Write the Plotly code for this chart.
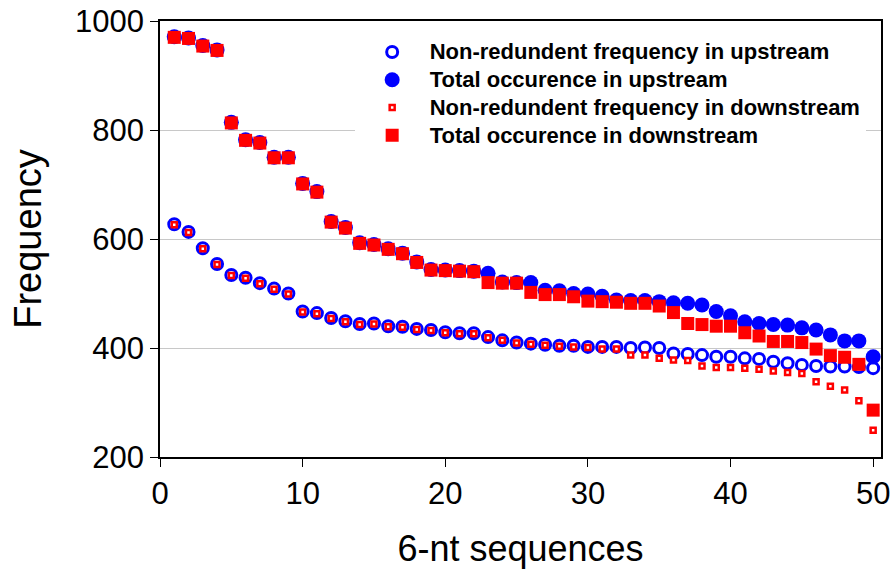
import plotly.graph_objects as go

x_idx = list(range(1, 51))

up_nonredundant = [627, 613, 583, 554, 534, 529, 519, 509, 500, 467,
                   464, 455, 449, 444, 445, 440, 439, 435, 433, 429,
                   427, 427, 420, 414, 410, 408, 406, 404, 404, 402,
                   402, 402, 400, 401, 400, 390, 389, 387, 384, 384,
                   381, 380, 375, 372, 369, 367, 366, 366, 365, 363]

up_total = [971, 969, 955, 947, 814, 782, 777, 750, 750, 702,
            687, 632, 621, 593, 590, 582, 574, 558, 544, 543,
            542, 541, 537, 521, 520, 520, 506, 505, 500, 499,
            495, 488, 487, 487, 485, 483, 482, 479, 467, 459,
            448, 445, 443, 442, 437, 433, 424, 413, 413, 384]

down_nonredundant = [626, 612, 582, 553, 533, 528, 518, 508, 499, 466,
                     463, 454, 448, 443, 444, 439, 438, 434, 432, 428,
                     426, 426, 419, 414, 409, 407, 405, 403, 402, 401,
                     398, 398, 387, 387, 381, 378, 377, 367, 364, 364,
                     363, 361, 358, 355, 353, 338, 330, 323, 303, 249]

down_total = [970, 968, 954, 946, 813, 781, 776, 749, 749, 701,
              686, 631, 620, 592, 589, 581, 573, 557, 543, 542,
              541, 540, 520, 519, 519, 502, 498, 498, 494, 486,
              485, 484, 482, 482, 477, 465, 445, 443, 440, 440,
              428, 422, 412, 412, 410, 398, 386, 383, 370, 286]

names = ["Non-redundent frequency in upstream",
         "Total occurence in upstream",
         "Non-redundent frequency in downstream",
         "Total occurence in downstream"]

BLUE = "#0000ff"
RED = "#ff0000"
FONT = "Arial, Liberation Sans, sans-serif"


def legend_label(s):
    return '<span style="font-size:22px">' + s + '</span>'


fig = go.Figure()
fig.add_trace(go.Scatter(x=x_idx, y=up_nonredundant, mode="markers", name=legend_label(names[0]),
                         marker=dict(symbol="circle", size=11, color="white",
                                     line=dict(color=BLUE, width=3))))
fig.add_trace(go.Scatter(x=x_idx, y=up_total, mode="markers", name=legend_label(names[1]),
                         marker=dict(symbol="circle", size=15, color=BLUE,
                                     line=dict(width=0))))
fig.add_trace(go.Scatter(x=x_idx, y=down_nonredundant, mode="markers", name=legend_label(names[2]),
                         marker=dict(symbol="square", size=5, color="white",
                                     line=dict(color=RED, width=2.5))))
fig.add_trace(go.Scatter(x=x_idx, y=down_total, mode="markers", name=legend_label(names[3]),
                         marker=dict(symbol="square", size=13, color=RED,
                                     line=dict(width=0))))

fig.update_layout(
    width=891, height=574,
    margin=dict(l=160, r=10, t=21, b=117),
    paper_bgcolor="white", plot_bgcolor="white",
    font=dict(family=FONT, color="black"),
    legend=dict(x=0.27, y=0.972, xanchor="left", yanchor="top",
                bgcolor="white", borderwidth=0,
                font=dict(family=FONT, size=19, color="black", weight="bold"),
                itemwidth=65, tracegroupgap=0),
    showlegend=True,
)
fig.update_xaxes(range=[0, 50.55], tickvals=[0, 10, 20, 30, 40, 50],
                 showgrid=False, zeroline=False, automargin=False,
                 showline=True, linecolor="black", linewidth=1.5, mirror=True,
                 ticks="outside", ticklen=8, tickcolor="black", tickwidth=1,
                 tickfont=dict(size=31, family=FONT),
                 title=dict(text="6-nt sequences", font=dict(size=36, family=FONT), standoff=26))
fig.update_yaxes(range=[200, 1000], tickvals=[200, 400, 600, 800, 1000],
                 showgrid=True, gridcolor="#c8c8c8", gridwidth=1, zeroline=False,
                 automargin=False,
                 showline=True, linecolor="black", linewidth=1.5, mirror=True,
                 ticks="outside", ticklen=8, tickcolor="black", tickwidth=1,
                 tickfont=dict(size=31, family=FONT),
                 title=dict(text="Frequency", font=dict(size=38, family=FONT), standoff=22))

fig.write_html("out.html")
